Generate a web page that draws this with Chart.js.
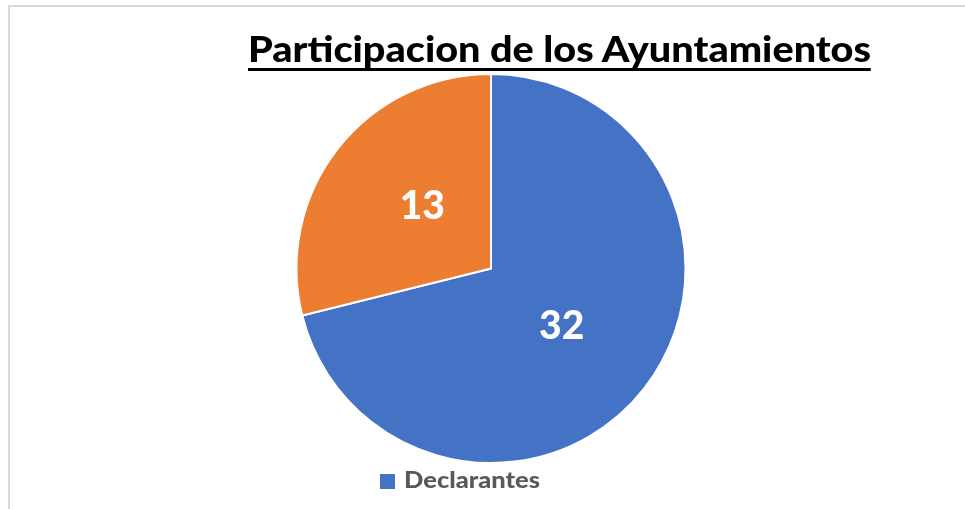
<!DOCTYPE html>
<html>
<head>
<meta charset="utf-8">
<script src="https://cdn.jsdelivr.net/npm/chart.js@4/dist/chart.umd.min.js"></script>
<style>
  html, body { margin: 0; padding: 0; background: #fff; }
  #wrap { position: relative; width: 965px; height: 509px; overflow: hidden; background: #fff; }
  #frame { position: absolute; left: 8px; top: 5px; width: 2000px; height: 2000px;
           border-left: 2px solid #d9d9d9; border-top: 2px solid #d9d9d9; }
  #cv { position: absolute; left: 0; top: 0; }
  #title { position: absolute; left: 248px; top: 28px; white-space: nowrap;
           font-family: Lato, "Open Sans", sans-serif; font-weight: 900; font-size: 36px;
           line-height: 40px; color: #000; border-bottom: 3px solid #000; transform-origin: 0 0; }
  #legend { position: absolute; left: 380px; top: 468px; white-space: nowrap;
            font-family: Lato, "Open Sans", sans-serif; font-weight: 900; font-size: 23px;
            line-height: 22px; color: #595959; }
  #legend .sw { display: inline-block; width: 15px; height: 15px; margin-right: 9px; vertical-align: -1px; }
  #legend .tx { display: inline-block; transform-origin: 0 50%; }
</style>
</head>
<body>
<div id="wrap">
  <div id="frame"></div>
  <canvas id="cv" width="965" height="509"></canvas>
  <div id="title"></div>
  <div id="legend"></div>
</div>
<script>
const chartTitle = 'Participacion de los Ayuntamientos';
const categories = ['Declarantes', 'No declarantes'];
const values = [32, 13];
const colors = ['#4472C4', '#ED7D31'];
const legendShown = ['Declarantes'];

// Title (real text), stretched to the reference width
const t = document.getElementById('title');
t.textContent = chartTitle;
const w = t.getBoundingClientRect().width;
t.style.transform = 'scaleX(' + (623 / w) + ')';

// Legend (only the visible item from the reference)
const lg = document.getElementById('legend');
legendShown.forEach(name => {
  const i = categories.indexOf(name);
  const sw = document.createElement('span');
  sw.className = 'sw';
  sw.style.background = colors[i];
  const tx = document.createElement('span');
  tx.className = 'tx';
  tx.textContent = name;
  lg.appendChild(sw);
  lg.appendChild(tx);
  const tw = tx.getBoundingClientRect().width;
  tx.style.transform = 'scaleX(' + (136 / tw) + ')';
});

const labelPlugin = {
  id: 'sliceLabels',
  afterDatasetsDraw(chart) {
    const ctx = chart.ctx;
    const meta = chart.getDatasetMeta(0);
    ctx.save();
    ctx.fillStyle = '#ffffff';
    ctx.font = '900 39px Lato, "Open Sans", sans-serif';
    ctx.textAlign = 'center';
    ctx.textBaseline = 'middle';
    meta.data.forEach((arc, i) => {
      const p = arc.tooltipPosition();
      ctx.fillText(String(chart.data.datasets[0].data[i]), p.x + (i === 0 ? -6 : 8), p.y - 2);
    });
    ctx.restore();
  }
};

new Chart(document.getElementById('cv'), {
  type: 'pie',
  data: {
    labels: categories,
    datasets: [{
      data: values,
      backgroundColor: colors,
      borderColor: '#ffffff',
      borderWidth: 2
    }]
  },
  options: {
    responsive: false,
    animation: false,
    layout: { padding: { top: 73, bottom: 45, left: 17, right: 0 } },
    plugins: {
      legend: { display: false },
      title: { display: false },
      tooltip: { enabled: false }
    }
  },
  plugins: [labelPlugin]
});
</script>
</body>
</html>
